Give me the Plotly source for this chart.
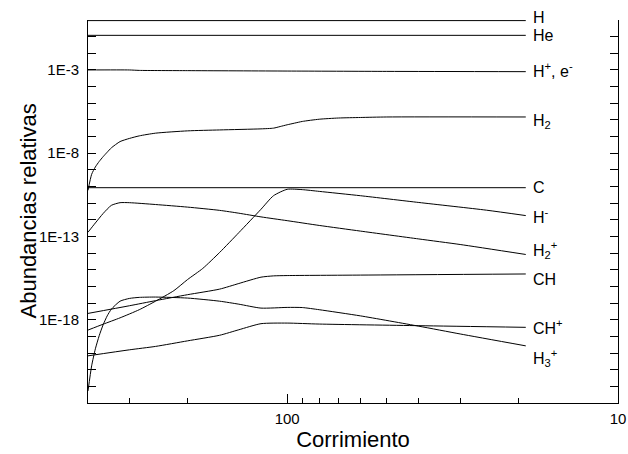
import math
import plotly.graph_objects as go

# ---- data (redshift z, relative abundance) ----
z_const = [400, 19]
ab_H = [0.92, 0.92]
ab_He = [0.12, 0.12]
ab_C = [8.5e-11, 8.5e-11]

z_Hp = [400, 300, 280, 200, 100, 50, 19]
ab_Hp = [1.0e-3, 1.0e-3, 9.4e-4, 9.1e-4, 8.6e-4, 8.2e-4, 7.9e-4]

z_H2 = [400, 390, 380, 370, 360, 350, 340, 320, 300, 280, 250, 200, 160, 120, 110, 105, 100, 95, 90, 80, 70, 60, 50, 19]
ab_H2 = [5.9e-11, 5.4e-10, 1.5e-9, 3.2e-9, 6.2e-9, 1.15e-8, 2.1e-8, 5.0e-8, 7.7e-8, 1.1e-7, 1.6e-7, 2.2e-7,
         2.5e-7, 2.9e-7, 3.2e-7, 4.0e-7, 5.1e-7, 6.4e-7, 8.1e-7, 1.1e-6, 1.3e-6, 1.4e-6, 1.5e-6, 1.5e-6]

z_Hm = [400, 360, 320, 280, 250, 220, 200, 180, 160, 140, 120, 110, 100, 90, 80, 60, 40, 25, 19]
ab_Hm = [2.4e-19, 5.4e-19, 1.3e-18, 4.0e-18, 1.3e-17, 5.6e-17, 2.6e-16, 1.2e-15, 1.1e-14, 1.7e-13, 4.3e-12,
         2.8e-11, 6.8e-11, 6.5e-11, 5.1e-11, 2.8e-11, 1.1e-11, 3.8e-12, 1.8e-12]

z_H2p = [400, 380, 360, 340, 320, 300, 250, 200, 160, 140, 120, 100, 80, 60, 40, 30, 19]
ab_H2p = [1.8e-13, 6.5e-13, 2.4e-12, 7.4e-12, 1.07e-11, 1.07e-11, 8.3e-12, 5.8e-12, 3.7e-12, 2.5e-12, 1.5e-12,
          8.9e-13, 4.6e-13, 2.1e-13, 7.1e-14, 3.3e-14, 8.3e-15]

z_CH = [400, 300, 250, 200, 160, 140, 120, 110, 100, 60, 19]
ab_CH = [2.4e-18, 6.9e-18, 1.4e-17, 3.2e-17, 6.9e-17, 1.5e-16, 3.6e-16, 4.3e-16, 4.5e-16, 4.8e-16, 5.6e-16]

z_CHp = [400, 300, 250, 200, 160, 140, 120, 100, 80, 40, 19]
ab_CHp = [6.8e-21, 1.56e-20, 2.5e-20, 5.4e-20, 1.17e-19, 2.5e-19, 5.8e-19, 6.3e-19, 5.5e-19, 4.4e-19, 3.5e-19]

z_H3p = [400, 390, 380, 370, 360, 350, 340, 320, 300, 280, 250, 200, 160, 140, 120, 100, 90, 80, 60, 40, 30, 19]
ab_H3p = [5.3e-23, 1.7e-21, 1.8e-20, 1.1e-19, 5.0e-19, 1.7e-18, 4.3e-18, 1.3e-17, 1.9e-17, 2.2e-17, 2.3e-17,
          2.0e-17, 1.3e-17, 8.6e-18, 5.0e-18, 5.5e-18, 5.4e-18, 4.0e-18, 1.7e-18, 4.1e-19, 1.4e-19, 2.7e-20]

# labels: (text, abundance level at which the label sits)
label_texts = ["H", "He", "H<sup>+</sup>, e<sup>-</sup>", "H<sub>2</sub>", "C", "H<sup>-</sup>",
               "H<sub>2</sub><sup>+</sup>", "CH", "CH<sup>+</sup>", "H<sub>3</sub><sup>+</sup>"]
label_levels = [0.92, 0.12, 1.0e-3, 8e-7, 9e-11, 1.8e-12, 1.5e-14, 2.5e-16, 3.5e-19, 5e-21]
label_z = 18.3

x_major = [100, 10]
x_minor = [300, 200, 90, 80, 70, 60, 50, 40, 30, 20]
y_major = [1e-3, 1e-8, 1e-13, 1e-18]
y_major_text = ["1E-3", "1E-8", "1E-13", "1E-18"]
y_minor = [10.0 ** (-k) for k in range(0, 24)]

series = [
    (z_const, ab_H), (z_const, ab_He), (z_Hp, ab_Hp), (z_H2, ab_H2), (z_const, ab_C),
    (z_Hm, ab_Hm), (z_H2p, ab_H2p), (z_CH, ab_CH), (z_CHp, ab_CHp), (z_H3p, ab_H3p),
]

FONT = "Liberation Sans, Arial, sans-serif"

fig = go.Figure()
for xs, ys in series:
    fig.add_trace(go.Scatter(x=xs, y=ys, mode="lines",
                             line=dict(color="#000000", width=1, shape="spline", smoothing=0.6),
                             showlegend=False, hoverinfo="skip", cliponaxis=False))

for i, (t, lv) in enumerate(zip(label_texts, label_levels)):
    fig.add_annotation(x=math.log10(label_z), y=math.log10(lv), xref="x", yref="y",
                       text=t, showarrow=False, xanchor="left", yanchor="middle",
                       yshift=3 if i == 0 else 0,
                       font=dict(family=FONT, size=16, color="#000000"))

# y-axis title placed as a rotated annotation
fig.add_annotation(x=-60 / 530, y=0.5, xref="paper", yref="paper", text="Abundancias relativas",
                   showarrow=False, textangle=-90, xanchor="center", yanchor="middle",
                   font=dict(family=FONT, size=22, color="#000000"))

fig.update_layout(
    width=628, height=454,
    margin=dict(l=88, r=10, t=20, b=51, autoexpand=False),
    paper_bgcolor="white", plot_bgcolor="white",
    font=dict(family=FONT, color="#000000"),
    showlegend=False,
)
fig.update_xaxes(
    type="log", range=[math.log10(400), 1], automargin=False,
    showgrid=False, zeroline=False,
    showline=True, linecolor="#000000", linewidth=1, mirror=False,
    ticks="inside", ticklen=9, tickwidth=1, tickcolor="#000000",
    tickvals=x_major, ticktext=[str(v) for v in x_major],
    tickfont=dict(size=15, family=FONT), ticklabelstandoff=2,
    minor=dict(tickvals=x_minor, ticks="inside", ticklen=5, tickwidth=1, tickcolor="#000000", showgrid=False),
    title=dict(text="Corrimiento", font=dict(size=22, family=FONT), standoff=2),
)
fig.update_yaxes(
    type="log", range=[-23, 0], automargin=False,
    showgrid=False, zeroline=False,
    showline=True, linecolor="#000000", linewidth=1, mirror="ticks",
    ticks="inside", ticklen=8, tickwidth=1, tickcolor="#000000",
    tickvals=y_major, ticktext=y_major_text,
    tickfont=dict(size=15, family=FONT), ticklabelstandoff=5,
    minor=dict(tickvals=y_minor, ticks="inside", ticklen=8, tickwidth=1, tickcolor="#000000", showgrid=False),
)

fig.write_html("out.html", config={"displayModeBar": False},
               post_script="document.body.style.margin='0';")
